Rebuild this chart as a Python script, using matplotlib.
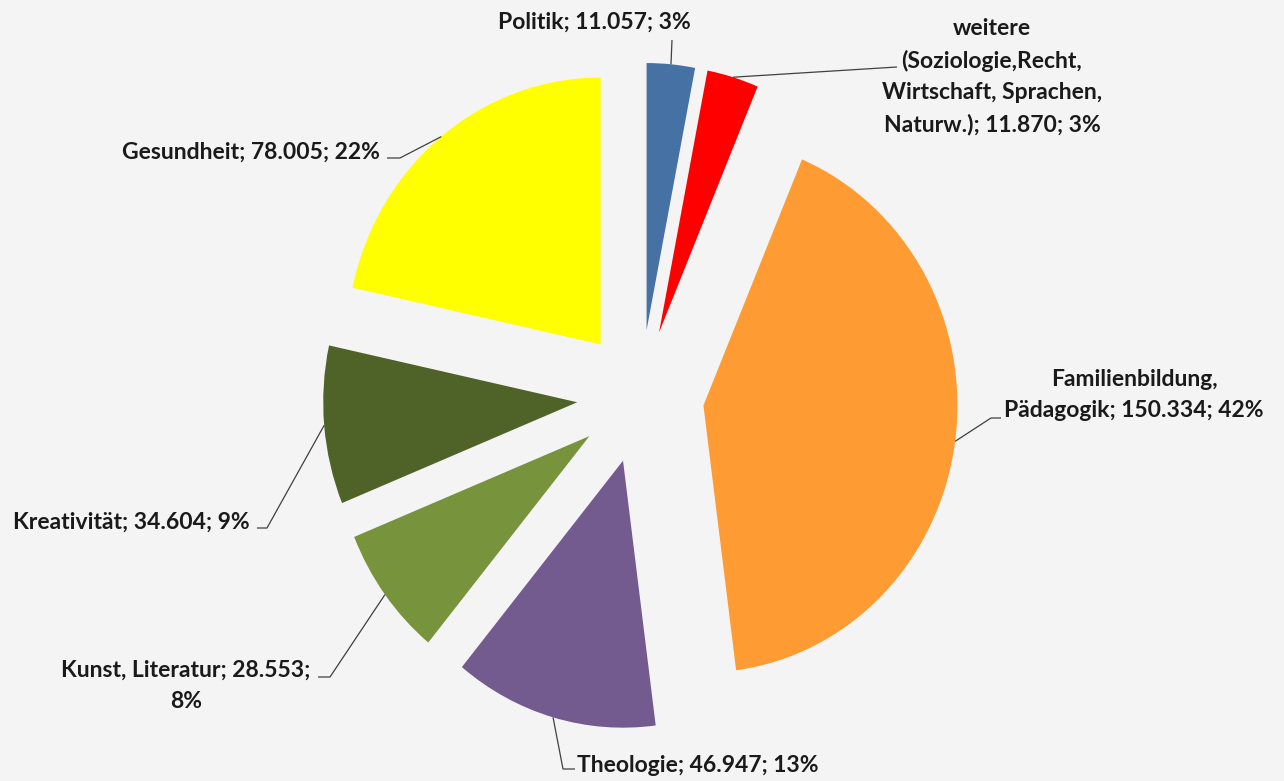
import matplotlib.pyplot as plt
import numpy as np

# Werte (Tsd.) je Themenbereich, Reihenfolge im Uhrzeigersinn ab 12 Uhr
categories = ['Politik',
              'weitere\n(Soziologie,Recht,\nWirtschaft, Sprachen,\nNaturw.)',
              'Familienbildung,\nPädagogik',
              'Theologie',
              'Kunst, Literatur',
              'Kreativität',
              'Gesundheit']
values = [11.057, 11.870, 150.334, 46.947, 28.553, 34.604, 78.005]
percent_labels = ['3%', '3%', '42%', '13%', '8%', '9%', '22%']
colors = ['#4571A5', '#FF0000', '#FF9B33', '#735A8F', '#77933C', '#4F6228', '#FFFF00']

BG = '#F4F4F4'
W, H = 1284, 781
# the original chart is slightly stretched vertically
CX, CY = 640.5, 396.5   # pie centre in pixels
RX, RY = 254, 267       # pie radius in pixels, horizontal / vertical
EXPLODE = 0.25


def px(x, y):
    # pixel position (from top-left) -> data units of the pie
    return (x - CX) / RX, (CY - y) / RY


# label text centres and leader line bends, in pixels
label_pos = [(594, 22), (992, 77), (1134, 395), (698, 765),
             (186, 686), (131, 522), (251, 152)]
leader_pts = [
    [(672, 40)],
    [(897, 67)],
    [(991, 418), (1001, 418)],
    [(563, 769), (575, 769)],
    [(330, 677), (318, 677)],
    [(267, 528), (257, 528)],
    [(400, 158), (387, 158)],
]


def fmt_label(name, val, pct):
    txt = f"{name}; {val:.3f}; {pct}"
    if name == 'Kunst, Literatur':
        txt = f"{name}; {val:.3f};\n{pct}"
    return txt


fig = plt.figure(figsize=(W / 100, H / 100), dpi=100, facecolor=BG)
ax = fig.add_axes([0, 0, 1, 1])
ax.set_facecolor(BG)

wedges, _ = ax.pie(values, explode=[EXPLODE] * len(values), colors=colors,
                   startangle=90, counterclock=False, radius=1.0,
                   wedgeprops=dict(linewidth=0, antialiased=True))

ax.set_aspect('auto')
ax.set_xlim(-CX / RX, (W - CX) / RX)
ax.set_ylim(-(H - CY) / RY, CY / RY)
ax.axis('off')

total = sum(values)
cum = 0.0
for i, v in enumerate(values):
    mid = (cum + v / 2) / total * 2 * np.pi   # clockwise from top
    cum += v
    start = ((1 + EXPLODE) * np.sin(mid), (1 + EXPLODE) * np.cos(mid))
    pts = [start] + [px(*p) for p in leader_pts[i]]
    xs, ys = zip(*pts)
    ax.plot(xs, ys, color='#404040', lw=0.9, solid_capstyle='butt')

    tx, ty = px(*label_pos[i])
    ax.text(tx, ty, fmt_label(categories[i], v, percent_labels[i]),
            ha='center', va='center', fontsize=16.5, fontweight='bold',
            family=['Lato', 'DejaVu Sans'], color='#1A1A1A', linespacing=1.6)

fig.savefig('out.png', dpi=100, facecolor=BG)
